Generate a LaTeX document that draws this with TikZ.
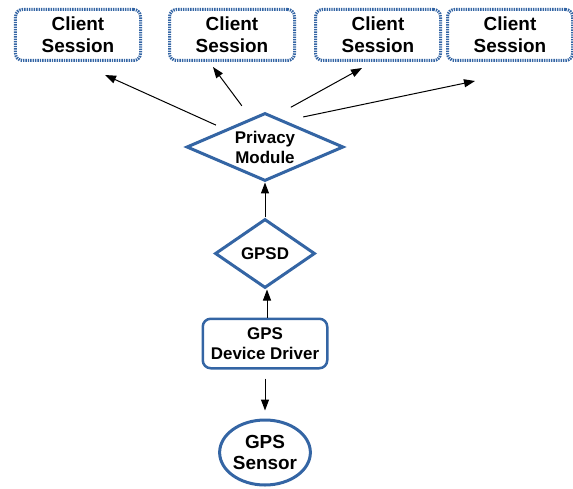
\documentclass[tikz,border=0pt]{standalone}
\usepackage{fontspec}
\setmainfont{Liberation Sans}
\usetikzlibrary{positioning,arrows.meta,shapes.geometric}
\definecolor{lineblue}{HTML}{3465A4}

\begin{document}
\begin{tikzpicture}[
    x=1bp, y=-1bp,
    >={Triangle[length=11bp,width=8bp]},
    flow/.style={->, line width=1bp},
    session/.style={
      draw=lineblue,
      line width=3bp,
      dash pattern=on 1.4bp off 1bp,
      rounded corners=7bp,
      align=center,
      inner sep=0pt,
      minimum width=125bp,
      minimum height=51bp,
      font=\fontsize{19}{22}\selectfont\bfseries
    },
    decision/.style={
      diamond,
      draw=lineblue,
      line width=3bp,
      align=center,
      inner sep=0pt,
      font=\fontsize{17}{20}\selectfont\bfseries
    },
    driverbox/.style={
      draw=lineblue,
      line width=2.5bp,
      rounded corners=8bp,
      align=center,
      inner sep=0pt,
      minimum width=124.5bp,
      minimum height=49.5bp,
      font=\fontsize{17}{20}\selectfont\bfseries
    },
    device/.style={
      ellipse,
      draw=lineblue,
      line width=3bp,
      align=center,
      inner sep=0pt,
      minimum width=90bp,
      minimum height=65bp,
      font=\fontsize{19}{22}\selectfont\bfseries
    }
  ]
    \useasboundingbox (0,0) rectangle (573,489);

    % client sessions
    \node[session] (client1) at (78,35) {Client\\Session};
    \node[session, right=26bp of client1] (client2) {Client\\Session};
    \node[session, right=18bp of client2] (client3) {Client\\Session};
    \node[session, right=4bp of client3] (client4) {Client\\Session};

    % main column
    \node[decision, minimum width=157bp, minimum height=68bp, aspect=2.3] (privacy) at (265,147) {Privacy\\Module};
    \node[decision, minimum width=100bp, minimum height=69bp, aspect=1.45, below=35bp of privacy] (gpsd) {GPSD};
    \node[driverbox, below=28bp of gpsd] (driver) {GPS\\Device Driver};
    \node[device, below=49bp of driver] (sensor) {GPS\\Sensor};

    \coordinate (tip1) at (105,75);
    \coordinate (tip2) at (213,67);
    \coordinate (tip3) at (362,68);
    \coordinate (tip4) at (475,81);

    \draw[flow, shorten <=10bp] (privacy.156) -- (tip1);
    \draw[flow, shorten <=15bp] (privacy.116) -- (tip2);
    \draw[flow, shorten <=18bp] (privacy.72) -- (tip3);
    \draw[flow, shorten <=18bp] (privacy.52) -- (tip4);

    \draw[flow] (gpsd) -- (privacy);
    \draw[flow] ([xshift=2bp]driver.north) -- ([xshift=2bp]gpsd.south);
    \draw[flow, shorten <=9bp, shorten >=8bp] (driver) -- (sensor);
  \end{tikzpicture}
\end{document}
